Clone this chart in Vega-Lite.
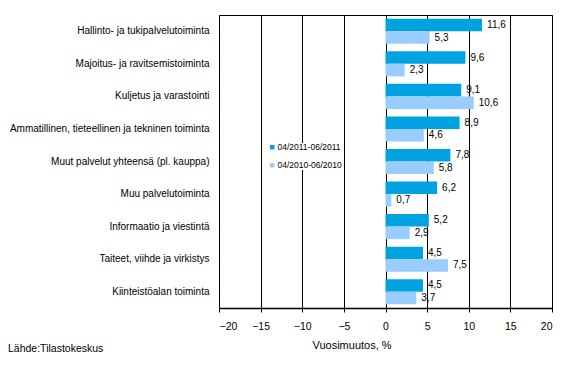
{
  "$schema": "https://vega.github.io/schema/vega-lite/v6.json",
  "width": 333,
  "height": 293,
  "autosize": {"type": "none"},
  "padding": {"left": 219, "top": 15, "right": 16, "bottom": 65},
  "background": "white",
  "config": {
    "font": "Liberation Sans",
    "view": {"stroke": "black", "strokeWidth": 1},
    "axis": {"labelFont": "Liberation Sans", "titleFont": "Liberation Sans"}
  },
  "title": {
    "text": "Lähde:Tilastokeskus",
    "orient": "bottom",
    "anchor": "start",
    "frame": "group",
    "dx": -211,
    "offset": -7,
    "fontSize": 10.5,
    "fontWeight": "normal",
    "font": "Liberation Sans",
    "color": "black"
  },
  "data": {
    "values": [
      {"cat": "Hallinto- ja tukipalvelutoiminta", "period": "04/2011-06/2011", "value": 11.6, "label": "11,6"},
      {"cat": "Hallinto- ja tukipalvelutoiminta", "period": "04/2010-06/2010", "value": 5.3, "label": "5,3"},
      {"cat": "Majoitus- ja ravitsemistoiminta", "period": "04/2011-06/2011", "value": 9.6, "label": "9,6"},
      {"cat": "Majoitus- ja ravitsemistoiminta", "period": "04/2010-06/2010", "value": 2.3, "label": "2,3"},
      {"cat": "Kuljetus ja varastointi", "period": "04/2011-06/2011", "value": 9.1, "label": "9,1"},
      {"cat": "Kuljetus ja varastointi", "period": "04/2010-06/2010", "value": 10.6, "label": "10,6"},
      {"cat": "Ammatillinen, tieteellinen ja tekninen toiminta", "period": "04/2011-06/2011", "value": 8.9, "label": "8,9"},
      {"cat": "Ammatillinen, tieteellinen ja tekninen toiminta", "period": "04/2010-06/2010", "value": 4.6, "label": "4,6"},
      {"cat": "Muut palvelut yhteensä (pl. kauppa)", "period": "04/2011-06/2011", "value": 7.8, "label": "7,8"},
      {"cat": "Muut palvelut yhteensä (pl. kauppa)", "period": "04/2010-06/2010", "value": 5.8, "label": "5,8"},
      {"cat": "Muu palvelutoiminta", "period": "04/2011-06/2011", "value": 6.2, "label": "6,2"},
      {"cat": "Muu palvelutoiminta", "period": "04/2010-06/2010", "value": 0.7, "label": "0,7"},
      {"cat": "Informaatio ja viestintä", "period": "04/2011-06/2011", "value": 5.2, "label": "5,2"},
      {"cat": "Informaatio ja viestintä", "period": "04/2010-06/2010", "value": 2.9, "label": "2,9"},
      {"cat": "Taiteet, viihde ja virkistys", "period": "04/2011-06/2011", "value": 4.5, "label": "4,5"},
      {"cat": "Taiteet, viihde ja virkistys", "period": "04/2010-06/2010", "value": 7.5, "label": "7,5"},
      {"cat": "Kiinteistöalan toiminta", "period": "04/2011-06/2011", "value": 4.5, "label": "4,5"},
      {"cat": "Kiinteistöalan toiminta", "period": "04/2010-06/2010", "value": 3.7, "label": "3,7"}
    ]
  },
  "encoding": {
    "y": {
      "field": "cat",
      "type": "nominal",
      "sort": null,
      "scale": {"paddingInner": 0.23, "paddingOuter": 0.115},
      "axis": {
        "title": null,
        "domain": false,
        "ticks": false,
        "labelFontSize": 10,
        "labelColor": "black",
        "labelPadding": 10,
        "labelLimit": 220
      }
    },
    "yOffset": {"field": "period", "type": "nominal", "sort": ["04/2011-06/2011", "04/2010-06/2010"]},
    "x": {
      "field": "value",
      "type": "quantitative",
      "scale": {"domain": [-20, 20], "nice": false},
      "axis": {
        "values": [-20, -15, -10, -5, 0, 5, 10, 15, 20],
        "title": "Vuosimuutos, %",
        "titleFontSize": 11,
        "titleFontWeight": "normal",
        "titleColor": "black",
        "titleAnchor": "start",
        "titleX": 93,
        "titlePadding": 8,
        "labelFontSize": 10.5,
        "labelColor": "black",
        "labelPadding": 9,
        "grid": true,
        "gridColor": "black",
        "gridWidth": 1,
        "gridOpacity": 1,
        "domainColor": "black",
        "domainWidth": 1.5,
        "tickColor": "black",
        "tickSize": 4
      }
    }
  },
  "layer": [
    {
      "mark": {"type": "bar"},
      "encoding": {
        "color": {
          "field": "period",
          "type": "nominal",
          "sort": ["04/2011-06/2011", "04/2010-06/2010"],
          "scale": {"domain": ["04/2011-06/2011", "04/2010-06/2010"], "range": ["#00a3e2", "#99ccff"]},
          "legend": {
            "title": null,
            "orient": "none",
            "legendX": 49,
            "legendY": 128,
            "symbolType": "square",
            "symbolSize": 20,
            "symbolStrokeWidth": 0,
            "labelFontSize": 8.5,
            "labelColor": "black",
            "labelOffset": 1,
            "rowPadding": 9,
            "fillColor": "white"
          }
        }
      }
    },
    {
      "mark": {"type": "text", "align": "left", "baseline": "middle", "dx": 5, "fontSize": 10, "color": "black"},
      "encoding": {"text": {"field": "label"}}
    }
  ]
}
